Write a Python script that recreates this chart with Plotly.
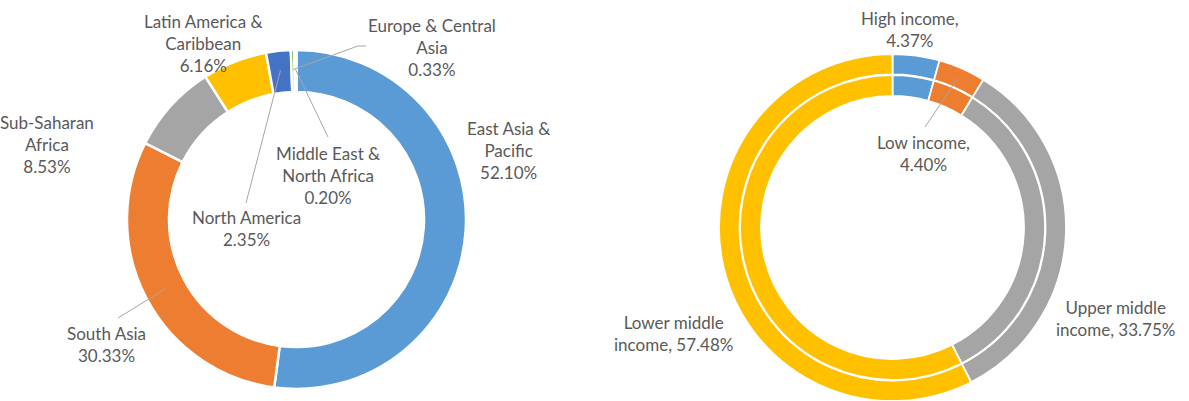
import math
import plotly.graph_objects as go

W, H = 1189, 401

# ---- data ----
region_names = ["East Asia & Pacific", "South Asia", "Sub-Saharan Africa",
                "Latin America & Caribbean", "North America",
                "Europe & Central Asia", "Middle East & North Africa"]
region_labels = ["East Asia &<br>Pacific", "South Asia", "Sub-Saharan<br>Africa",
                 "Latin America &<br>Caribbean", "North America",
                 "Europe & Central<br>Asia", "Middle East &<br>North Africa"]
region_values = [52.10, 30.33, 8.53, 6.16, 2.35, 0.33, 0.20]
region_colors = ["#5B9BD5", "#ED7D31", "#A5A5A5", "#FFC000", "#4472C4", "#70AD47", "#255E91"]

income_names = ["High income", "Low income", "Upper middle income", "Lower middle income"]
income_labels = ["High income,<br>", "Low income,<br>", "Upper middle<br>income, ", "Lower middle<br>income, "]
income_values = [4.37, 4.40, 33.75, 57.48]
income_colors = ["#5B9BD5", "#ED7D31", "#A5A5A5", "#FFC000"]

TEXT = "#595959"
LEAD = "#A6A6A6"
FONT = "Lato"
FS = 17


def px(x, y):
    return x / W, 1 - y / H


def dom(cx, cy, r):
    x0, y1 = px(cx - r, cy - r)
    x1, y0 = px(cx + r, cy + r)
    return dict(x=[max(0, x0), min(1, x1)], y=[max(0, y0), min(1, y1)])


fig = go.Figure()

# left donut
LCX, LCY, LR = 296.5, 219.5, 169.5
fig.add_trace(go.Pie(
    labels=region_names, values=region_values, sort=False, direction="clockwise",
    rotation=0, hole=127.5 / LR, textinfo="none", hoverinfo="label+percent",
    marker=dict(colors=region_colors, line=dict(color="white", width=2.5)),
    domain=dom(LCX, LCY, LR), showlegend=False))

# right donut (two rings)
RCX, RCY = 892.5, 227.5
RO, RI = 173.5, 152.5
fig.add_trace(go.Pie(
    labels=income_names, values=income_values, sort=False, direction="clockwise",
    rotation=0, hole=153.0 / RO, textinfo="none", hoverinfo="label+percent",
    marker=dict(colors=income_colors, line=dict(color="white", width=1.8)),
    domain=dom(RCX, RCY, RO), showlegend=False))
fig.add_trace(go.Pie(
    labels=income_names, values=income_values, sort=False, direction="clockwise",
    rotation=0, hole=131.5 / RI, textinfo="none", hoverinfo="label+percent",
    marker=dict(colors=income_colors, line=dict(color="white", width=1.8)),
    domain=dom(RCX, RCY, RI), showlegend=False))


def slice_point(values, idx, cx, cy, r):
    tot = sum(values)
    start = sum(values[:idx])
    mid = (start + values[idx] / 2) / tot * 2 * math.pi
    return cx + r * math.sin(mid), cy - r * math.cos(mid)


# label positions (pixel centers)
region_pos = [(508, 150), (106, 344.5), (47, 144.5), (203, 43.5), (246, 228),
              (432, 47.5), (328, 175.5)]
income_pos = [(910, 29), (923, 153.5), (1115, 318.5), (673, 333)]

annotations = []
for lab, v, (x, y) in zip(region_labels, region_values, region_pos):
    ax, ay = px(x, y)
    annotations.append(dict(x=ax, y=ay, xref="paper", yref="paper", showarrow=False,
                            text=f"{lab}<br>{v:.2f}%", align="center",
                            xanchor="center", yanchor="middle",
                            font=dict(family=FONT, size=FS, color=TEXT)))
for lab, v, (x, y) in zip(income_labels, income_values, income_pos):
    ax, ay = px(x, y)
    annotations.append(dict(x=ax, y=ay, xref="paper", yref="paper", showarrow=False,
                            text=f"{lab}{v:.2f}%", align="center",
                            xanchor="center", yanchor="middle",
                            font=dict(family=FONT, size=FS, color=TEXT)))

# leader lines: (series, index, label-end pixel points, radius)
leaders = [
    (region_values, 5, [(366, 46), (358, 46)], LCX, LCY, 150),
    (region_values, 6, [(328, 137)], LCX, LCY, 150),
    (region_values, 4, [(246, 203)], LCX, LCY, 150),
    (region_values, 1, [(118, 318)], LCX, LCY, 148),
    (income_values, 1, [(925, 127)], RCX, RCY, 163),
]
shapes = []
for vals, idx, pts, cx, cy, r in leaders:
    ex, ey = slice_point(vals, idx, cx, cy, r)
    allpts = pts + [(ex, ey)]
    path = ""
    for i, (x, y) in enumerate(allpts):
        xp, yp = px(x, y)
        path += ("M" if i == 0 else " L") + f" {xp:.5f} {yp:.5f}"
    shapes.append(dict(type="path", xref="paper", yref="paper", path=path,
                       line=dict(color=LEAD, width=1)))

fig.update_layout(width=W, height=H, margin=dict(l=0, r=0, t=0, b=0),
                  paper_bgcolor="white", plot_bgcolor="white",
                  annotations=annotations, shapes=shapes, showlegend=False)

fig.write_html("out.html",
               config={"displayModeBar": False},
               post_script="document.body.style.margin='0';document.body.style.overflow='hidden';")
